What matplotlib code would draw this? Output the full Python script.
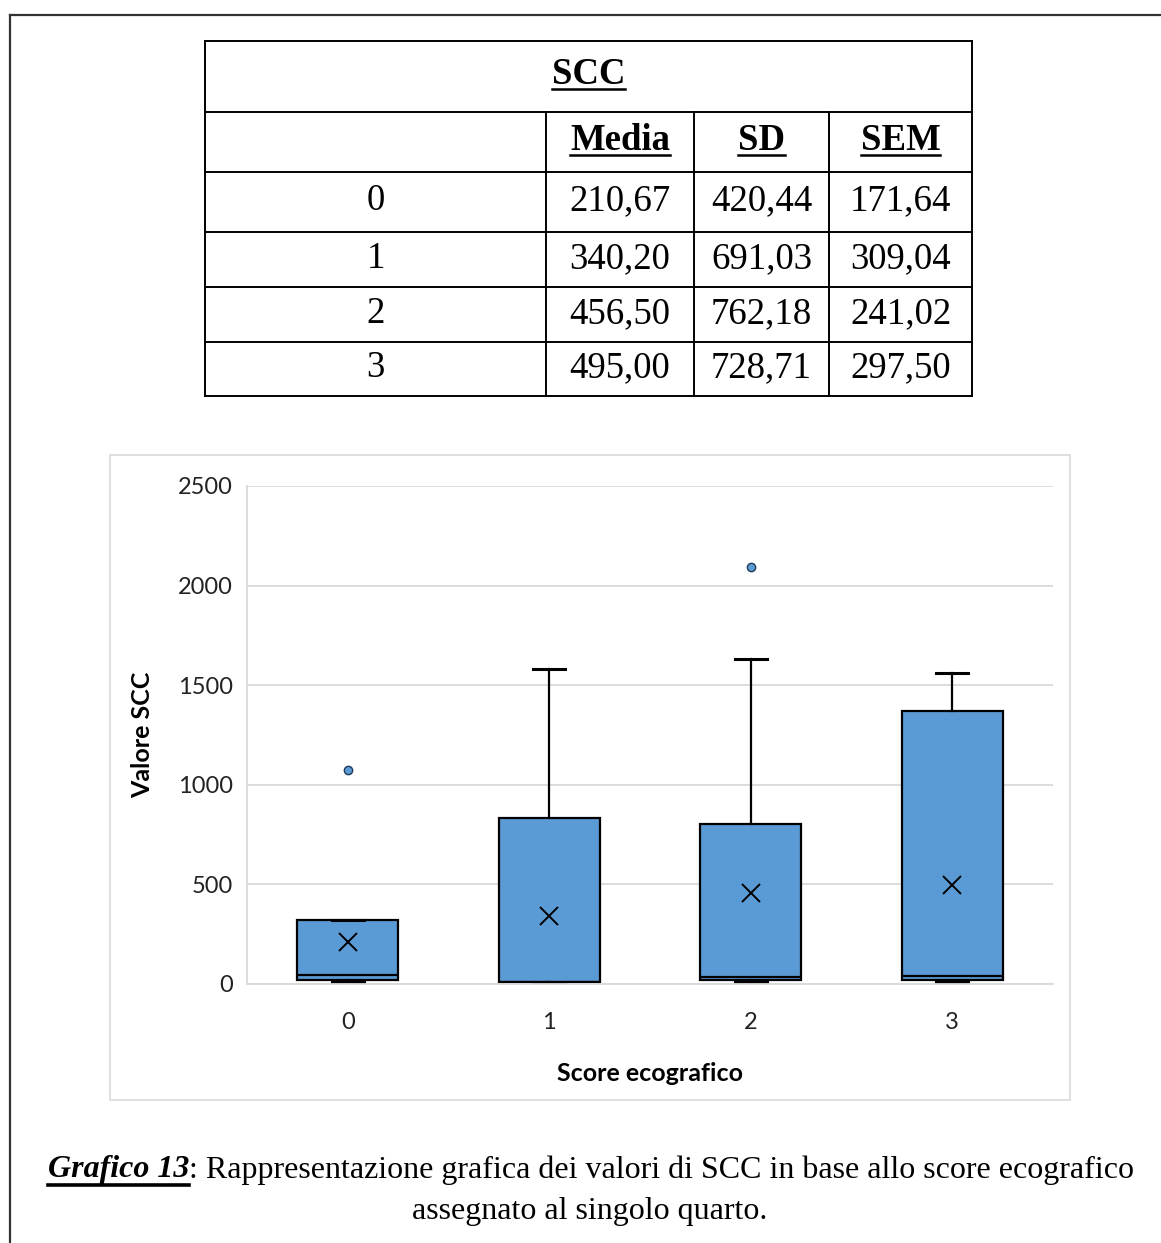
import matplotlib
matplotlib.use("Agg")
import matplotlib.pyplot as plt
from matplotlib.patches import Rectangle

# data
categories = ['0', '1', '2', '3']
media = [210.67, 340.20, 456.50, 495.00]
sd = [420.44, 691.03, 762.18, 728.71]
sem = [171.64, 309.04, 241.02, 297.50]

q1 = [20, 8, 20, 20]
med = [45, 12, 35, 40]
q3 = [321, 833, 803, 1370]
whislo = [8, 5, 8, 8]
whishi = [321, 1581, 1632, 1561]
fliers = [[1074], [], [2093], []]

W, H = 1161, 1243
fig = plt.figure(figsize=(W / 100, H / 100), dpi=100)

# page layer in pixel coordinates
page = fig.add_axes([0, 0, 1, 1])
page.set_xlim(0, W)
page.set_ylim(H, 0)
page.axis('off')

# page frame
page.plot([10, W + 5], [15, 15], color='#333333', lw=1.6)
page.plot([10, 10], [15, H + 5], color='#333333', lw=1.6)

def fmt(v):
    return f"{v:.2f}".replace('.', ',')

serif = 'Liberation Serif'

# table
tx0, tx1 = 205, 972
cols = [205, 546, 694, 829, 972]
rows = [41, 112, 172, 232, 287, 342, 396]
for y in rows:
    page.plot([tx0, tx1], [y, y], color='black', lw=1.4)
page.plot([tx0, tx0], [rows[0], rows[-1]], color='black', lw=1.4)
page.plot([tx1, tx1], [rows[0], rows[-1]], color='black', lw=1.4)
for x in cols[1:-1]:
    page.plot([x, x], [rows[1], rows[-1]], color='black', lw=1.4)

fsz = 26.5
title_items = [((tx0 + tx1) / 2, (rows[0] + rows[1]) / 2, 'SCC')]
headers = ['Media', 'SD', 'SEM']
for i, h in enumerate(headers):
    title_items.append(((cols[i + 1] + cols[i + 2]) / 2, (rows[1] + rows[2]) / 2, h))
under_texts = []
for x, y, s in title_items:
    under_texts.append(page.text(x, y - 2, s, fontsize=fsz, family=serif, fontweight='bold',
                                 ha='center', va='center'))

for r, cat in enumerate(categories):
    yc = (rows[r + 2] + rows[r + 3]) / 2 - 1
    vals = [cat, fmt(media[r]), fmt(sd[r]), fmt(sem[r])]
    for c, v in enumerate(vals):
        page.text((cols[c] + cols[c + 1]) / 2, yc, v, fontsize=fsz, family=serif,
                  ha='center', va='center')

# chart frame
page.add_patch(Rectangle((110, 455), 960, 645, fill=False, edgecolor='#d9d9d9', lw=1.2))

# box plot
ax = fig.add_axes([247 / W, 1 - 984 / H, (1053 - 247) / W, (984 - 486) / H])
stats = []
for i in range(len(categories)):
    stats.append(dict(med=med[i], q1=q1[i], q3=q3[i], whislo=whislo[i], whishi=whishi[i],
                      mean=media[i], fliers=fliers[i], label=categories[i]))
ax.bxp(stats, positions=range(len(categories)), widths=0.5, patch_artist=True,
       showmeans=True, showcaps=True,
       boxprops=dict(facecolor='#5b9bd5', edgecolor='black', lw=1.6),
       medianprops=dict(color='black', lw=1.6),
       whiskerprops=dict(color='black', lw=1.6),
       capprops=dict(color='black', lw=2.2),
       capwidths=0.16,
       meanprops=dict(marker='x', markeredgecolor='black', markersize=13, markeredgewidth=1.4),
       flierprops=dict(marker='o', markerfacecolor='#5b9bd5', markeredgecolor='#1f3a5a',
                       markersize=6, markeredgewidth=1.0))
ax.set_xlim(-0.5, 3.5)
ax.set_ylim(0, 2500)
ax.set_yticks(range(0, 2501, 500))
ax.yaxis.grid(True, color='#d9d9d9', lw=1.3)
ax.set_axisbelow(True)
for s in ['top', 'right']:
    ax.spines[s].set_visible(False)
ax.spines['left'].set_color('#d9d9d9')
ax.spines['bottom'].set_color('#d9d9d9')
ax.spines['left'].set_linewidth(1.3)
ax.spines['bottom'].set_linewidth(1.3)
ax.tick_params(length=0, labelsize=17, colors='#222222')
ax.tick_params(axis='y', pad=10)
ax.tick_params(axis='x', pad=20)
for lab in ax.get_yticklabels() + ax.get_xticklabels():
    lab.set_family('Lato')
ax.set_ylabel('Valore SCC', fontsize=18, fontweight='bold', family='Lato', labelpad=17)
ax.set_xlabel('Score ecografico', fontsize=18, fontweight='bold', family='Lato', labelpad=21)
ax.patch.set_alpha(0)

# caption
csz = 23
cap1 = page.text(48, 1170, 'Grafico 13', fontsize=csz, family=serif, fontweight='bold',
                 style='italic', ha='left', va='center')
fig.canvas.draw()
r = fig.canvas.get_renderer()
inv = page.transData.inverted()
bb = cap1.get_window_extent(r)
(x0, y0), (x1, y1) = inv.transform([[bb.x0, bb.y0], [bb.x1, bb.y1]])
page.plot([x0, x1], [1185, 1185], color='black', lw=2.6)
page.text(x1, 1170, ': Rappresentazione grafica dei valori di SCC in base allo score ecografico',
          fontsize=csz, family=serif, ha='left', va='center')
page.text(590, 1212, 'assegnato al singolo quarto.', fontsize=csz, family=serif,
          ha='center', va='center')

# underline table headers
for t in under_texts:
    bb = t.get_window_extent(r)
    (x0, y0), (x1, y1) = inv.transform([[bb.x0, bb.y0], [bb.x1, bb.y1]])
    page.plot([x0, x1], [y0 - 3, y0 - 3], color='black', lw=1.8)

fig.savefig('out.png', dpi=100)
